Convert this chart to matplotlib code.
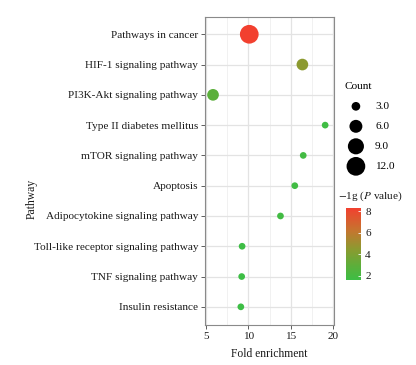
"""
Bubble chart of KEGG pathway enrichment.
"""

import matplotlib
matplotlib.use("Agg")
import matplotlib.pyplot as plt
from matplotlib.colors import LinearSegmentedColormap, Normalize
from matplotlib.ticker import MultipleLocator
import numpy as np

pathways = ["Pathways in cancer", "HIF-1 signaling pathway", "PI3K-Akt signaling pathway",
            "Type II diabetes mellitus", "mTOR signaling pathway", "Apoptosis",
            "Adipocytokine signaling pathway", "Toll-like receptor signaling pathway",
            "TNF signaling pathway", "Insulin resistance"]
fold_enrichment = [10.1, 16.4, 5.8, 19.1, 16.5, 15.5, 13.8, 9.25, 9.2, 9.1]
counts = [12, 5, 5, 2, 2, 2, 2, 2, 2, 2]
neg_log_p = [8.28, 4.5, 2.9, 1.75, 1.9, 1.8, 1.85, 1.7, 1.65, 1.63]

legend_counts = [3, 6, 9, 12]
legend_labels = ["3.0", "6.0", "9.0", "12.0"]
cbar_ticks = [2, 4, 6, 8]

FS = 8.1


def bubble_size(c):
    """count -> marker area in pt^2"""
    d_px = np.sqrt(30.5 * np.asarray(c, dtype=float) - 16)
    return (d_px * 0.72) ** 2


plt.rcParams["font.family"] = ["Liberation Serif", "DejaVu Serif"]
plt.rcParams["mathtext.fontset"] = "stix"
plt.rcParams["font.size"] = FS

cmap = LinearSegmentedColormap.from_list(
    "gr", [(0.0, "#3DBE45"), (0.2, "#5DAE3A"), (0.43, "#8C9A30"),
           (0.68, "#C4762F"), (1.0, "#F2402F")])
norm = Normalize(vmin=1.63, vmax=8.28)

fig = plt.figure(figsize=(4.16, 3.65), dpi=100)
ax = fig.add_axes([0.4928, 0.1096, 0.3101, 0.8438])

ypos = np.arange(len(pathways), 0, -1)
ax.scatter(fold_enrichment, ypos, s=bubble_size(counts), c=neg_log_p,
           cmap=cmap, norm=norm, edgecolors="none", zorder=3)

ax.set_xlim(4.85, 20.15)
ax.set_ylim(0.4, 10.57)
ax.set_xticks([5, 10, 15, 20])
ax.xaxis.set_minor_locator(MultipleLocator(2.5))
ax.set_yticks(ypos)
ax.set_yticklabels(pathways)
ax.grid(True, which="major", color="#E3E3E3", linewidth=0.9, zorder=0)
ax.grid(True, which="minor", axis="x", color="#EFEFEF", linewidth=0.6, zorder=0)
ax.set_axisbelow(True)
ax.tick_params(which="major", length=3, width=0.6, color="#444444",
               labelcolor="#1a1a1a", labelsize=FS, pad=2)
ax.tick_params(which="minor", length=0)
for sp in ax.spines.values():
    sp.set_color("#8a8a8a")
    sp.set_linewidth(0.8)

ax.set_xlabel("Fold enrichment", fontsize=FS + 0.3, color="#1a1a1a", labelpad=5)
ax.set_ylabel("Pathway", fontsize=FS + 0.3, color="#1a1a1a")
ax.yaxis.set_label_coords(-1.30, 0.41)

# size legend
handles = [ax.scatter([], [], s=bubble_size(c), color="black", edgecolors="none")
           for c in legend_counts]
leg = ax.legend(handles, legend_labels, title="Count", frameon=False,
                loc="upper left", bbox_to_anchor=(0.815, 0.79),
                bbox_transform=fig.transFigure, labelspacing=0.9,
                handletextpad=0.7, borderpad=0, fontsize=FS, title_fontsize=FS)
leg._legend_box.align = "left"

# colour bar
cax = fig.add_axes([0.8317, 0.2329, 0.0361, 0.1973])
sm = plt.cm.ScalarMappable(cmap=cmap, norm=norm)
cb = fig.colorbar(sm, cax=cax, ticks=cbar_ticks)
cb.outline.set_visible(False)
cb.ax.tick_params(direction="in", color="white", length=2.5, width=0.6,
                  labelsize=FS, labelcolor="#1a1a1a", pad=3)
fig.text(0.813, 0.445, r"$-$1g ($P$ value)", fontsize=FS, color="#1a1a1a",
         va="bottom", ha="left")

fig.savefig("out.png", dpi=100)
